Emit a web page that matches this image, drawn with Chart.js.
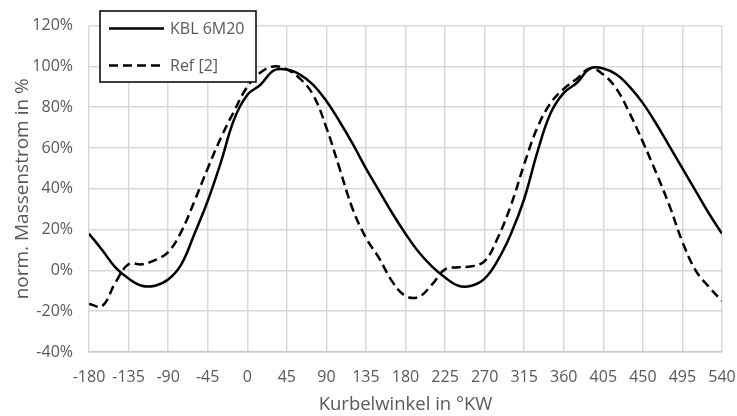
<!DOCTYPE html>
<html>
<head>
<meta charset="utf-8">
<script src="https://cdn.jsdelivr.net/npm/chart.js@4/dist/chart.umd.min.js"></script>
<style>
  html, body { margin: 0; padding: 0; background: #fff; }
  .chart-wrap { width: 737px; height: 416px; }
</style>
</head>
<body>
<div class="chart-wrap"><canvas id="myChart"></canvas></div>
<script>
// crank angle in °KW
const angles = [-180, -165, -150, -135, -120, -105, -90, -75, -60, -45, -30, -15,
  0, 15, 30, 45, 60, 75, 90, 105, 120, 135, 150, 165,
  180, 195, 210, 225, 240, 255, 270, 285, 300, 315, 330, 345,
  360, 375, 390, 405, 420, 435, 450, 465, 480, 495, 510, 525, 540];

// KBL 6M20 (solid)
const kblValues = [18, 10, 1.5, -4, -7.5, -7.5, -4.5, 3, 18, 34, 53, 74,
  86, 91, 98, 98.5, 96, 91, 83, 73, 62, 50, 39, 28,
  18, 9, 2, -3.5, -7.5, -7.5, -4, 5, 18, 35, 58, 77,
  87, 92, 99, 99, 96, 90, 82, 72, 61, 50, 39, 28, 18];

// Ref [2] (dashed)
const refValues = [-16.5, -17.5, -6, 3, 3, 5, 9, 19, 34, 50, 65, 78,
  90, 97, 100, 98.5, 94, 86, 70, 50, 30, 16, 6, -5.5,
  -12.5, -13, -7, 0.5, 1.5, 2, 4.5, 16, 32, 52, 70, 82,
  89, 94, 99, 96, 89, 77, 63, 48, 32, 14, 0, -8, -15];

const xTicks = [-180, -135, -90, -45, 0, 45, 90, 135, 180, 225, 270, 315, 360, 405, 450, 495, 540];
const yTicks = [-40, -20, 0, 20, 40, 60, 80, 100, 120];

const seriesNames = ['KBL 6M20', 'Ref [2]'];

const toPoints = vals => vals.map((v, i) => ({ x: angles[i], y: v }));

const gray = '#595959';
const gridColor = '#d9d9d9';
const fontName = "'Open Sans'";

// legend box drawn on top of the plot (like the Excel original)
const legendBox = {
  id: 'legendBox',
  afterDraw(chart) {
    const ctx = chart.ctx;
    ctx.save();
    ctx.fillStyle = '#fff';
    ctx.fillRect(100, 11, 156, 71);
    ctx.strokeStyle = '#000';
    ctx.lineWidth = 1.5;
    ctx.strokeRect(100, 11, 156, 71);
    ctx.font = '16px ' + fontName;
    ctx.textBaseline = 'middle';
    ctx.textAlign = 'left';
    chart.data.datasets.forEach((ds, i) => {
      const y = 28.5 + i * 37;
      ctx.strokeStyle = '#000';
      ctx.lineWidth = ds.borderWidth;
      ctx.setLineDash(ds.borderDash || []);
      ctx.beginPath();
      ctx.moveTo(109, y);
      ctx.lineTo(164, y);
      ctx.stroke();
      ctx.setLineDash([]);
      ctx.fillStyle = gray;
      ctx.fillText(ds.label, 170, y + 1);
    });
    ctx.restore();
  }
};

const ctx = document.getElementById('myChart').getContext('2d');

const chart = new Chart(ctx, {
  type: 'line',
  data: {
    datasets: [{
      label: seriesNames[0],
      data: toPoints(kblValues),
      borderColor: '#000',
      borderWidth: 2.5,
      pointRadius: 0,
      tension: 0.4,
      fill: false
    }, {
      label: seriesNames[1],
      data: toPoints(refValues),
      borderColor: '#000',
      borderWidth: 2.5,
      borderDash: [9, 5],
      pointRadius: 0,
      tension: 0.4,
      fill: false
    }]
  },
  options: {
    responsive: true,
    maintainAspectRatio: false,
    animation: false,
    layout: {
      padding: { left: 11, top: 23, right: 15, bottom: 0 }
    },
    plugins: {
      legend: { display: false },
      tooltip: { enabled: false }
    },
    scales: {
      x: {
        type: 'linear',
        min: -180,
        max: 540,
        afterBuildTicks: s => { s.ticks = xTicks.map(v => ({ value: v })); },
        afterFit: s => {
          s.height = 416 - 352;
          s.paddingLeft = 0;
          s.paddingRight = 0;
        },
        ticks: {
          autoSkip: false,
          maxRotation: 0,
          color: gray,
          padding: 16,
          font: { family: fontName, size: 16 }
        },
        grid: { color: gridColor, lineWidth: 1.5, drawTicks: false },
        border: { color: '#c8c8c8', width: 1.5 },
        title: {
          display: true,
          text: 'Kurbelwinkel in °KW',
          color: gray,
          font: { family: fontName, size: 18.5 },
          padding: 0
        }
      },
      y: {
        min: -40,
        max: 120,
        afterBuildTicks: s => { s.ticks = yTicks.map(v => ({ value: v })); },
        afterFit: s => { s.width = 89 - 11; },
        ticks: {
          color: gray,
          padding: 16,
          font: { family: fontName, size: 16 },
          callback: v => v + '%'
        },
        grid: { color: gridColor, lineWidth: 1.5, drawTicks: false },
        border: { display: false },
        title: {
          display: true,
          text: 'norm. Massenstrom in %',
          color: gray,
          font: { family: fontName, size: 19 },
          padding: 0
        }
      }
    }
  },
  plugins: [legendBox]
});
</script>
</body>
</html>
